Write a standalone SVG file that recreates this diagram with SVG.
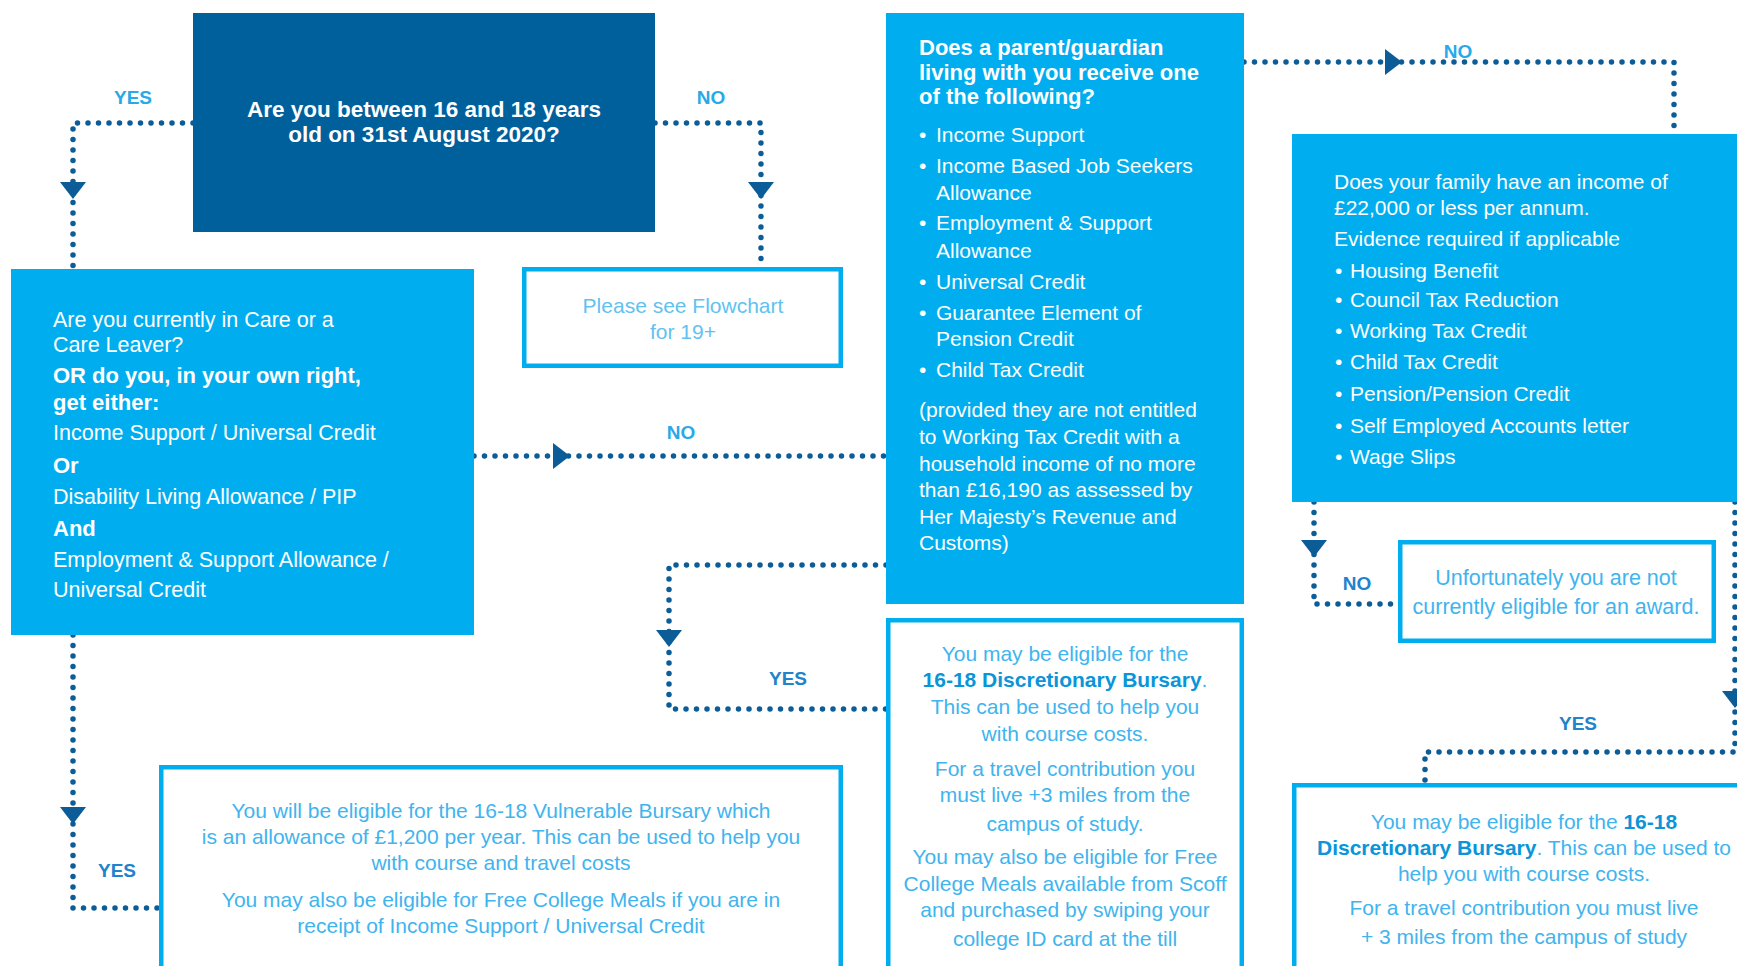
<svg xmlns="http://www.w3.org/2000/svg" xmlns:xlink="http://www.w3.org/1999/xlink" width="1737" height="966" viewBox="0 0 1737 966">
<defs>
<style>
.cyan{fill:#00aeef}
.dark{fill:#00609c}
.out{fill:#ffffff;stroke:#00aeef;stroke-width:4.5}
.conn{fill:none;stroke:#0b5c97;stroke-width:5.5;stroke-dasharray:0 10.5;stroke-linecap:round;stroke-linejoin:round}
.arrow{fill:#0b5c97}
text{font-family:"Liberation Sans",Arial,sans-serif;font-size:21px}
.w{fill:#ffffff}
.lb{fill:#40b4ee}
.pl{fill:#62c2ef}
.b{font-weight:bold}
.hl{fill:#0a95d9;font-weight:bold}
.lab{font-size:19px;font-weight:bold;text-anchor:middle}
.l1{fill:#28a9e8}
.l2{fill:#2083cc}
.c{text-anchor:middle}
</style>
<path id="ahd" d="M-13,-8 L13,-8 L0,9 Z"/>
</defs>
<rect width="1737" height="966" fill="#ffffff"/>

<g id="connectors">
<path class="conn" d="M193,123 H73 V269"/>
<path class="conn" d="M655,123 H761 V267"/>
<path class="conn" d="M474,456 H886"/>
<path class="conn" d="M886,565 H669 V709 H886"/>
<path class="conn" d="M73,635 V908 H160"/>
<path class="conn" d="M1244,62 H1674 V134"/>
<path class="conn" d="M1314,502 V604 H1398"/>
<path class="conn" d="M1735,502 V752 H1425 V784"/>
<use xlink:href="#ahd" class="arrow" transform="translate(73,190)"/>
<use xlink:href="#ahd" class="arrow" transform="translate(761,190)"/>
<use xlink:href="#ahd" class="arrow" transform="translate(561,456) rotate(-90)"/>
<use xlink:href="#ahd" class="arrow" transform="translate(669,638)"/>
<use xlink:href="#ahd" class="arrow" transform="translate(73,815)"/>
<use xlink:href="#ahd" class="arrow" transform="translate(1393,62) rotate(-90)"/>
<use xlink:href="#ahd" class="arrow" transform="translate(1314,548)"/>
<use xlink:href="#ahd" class="arrow" transform="translate(1735,699)"/>
<text class="lab l1" x="133" y="104">YES</text>
<text class="lab l1" x="711" y="104">NO</text>
<text class="lab l1" x="681" y="439">NO</text>
<text class="lab l1" x="1458" y="58">NO</text>
<text class="lab l2" x="788" y="685">YES</text>
<text class="lab l2" x="117" y="877">YES</text>
<text class="lab l2" x="1357" y="590">NO</text>
<text class="lab l2" x="1578" y="730">YES</text>
</g>

<g id="q-age">
<rect class="dark" x="193" y="13" width="462" height="219"/>
<text class="w b c" font-size="22.5" x="424" y="117" style="font-size:22.5px">Are you between 16 and 18 years</text>
<text class="w b c" x="424" y="142" style="font-size:22.5px">old on 31st August 2020?</text>
</g>

<g id="q-care">
<rect class="cyan" x="11" y="269" width="463" height="366"/>
<text class="w" x="53" y="327" style="font-size:21.5px">Are you currently in Care or a</text>
<text class="w" x="53" y="352" style="font-size:21.5px">Care Leaver?</text>
<text class="w b" x="53" y="383" style="font-size:22px">OR do you, in your own right,</text>
<text class="w b" x="53" y="410" style="font-size:22px">get either:</text>
<text class="w" x="53" y="440" style="font-size:21.5px">Income Support / Universal Credit</text>
<text class="w b" x="53" y="473" style="font-size:22px">Or</text>
<text class="w" x="53" y="504" style="font-size:21.5px">Disability Living Allowance / PIP</text>
<text class="w b" x="53" y="536" style="font-size:22px">And</text>
<text class="w" x="53" y="567" style="font-size:21.5px">Employment &amp; Support Allowance /</text>
<text class="w" x="53" y="597" style="font-size:21.5px">Universal Credit</text>
</g>

<g id="see-19">
<rect class="out" x="524.25" y="269.25" width="316.5" height="96.5"/>
<text class="pl c" x="683" y="313">Please see Flowchart</text>
<text class="pl c" x="683" y="339">for 19+</text>
</g>

<g id="q-parent">
<rect class="cyan" x="886" y="13" width="358" height="591"/>
<text class="w b" x="919" y="55" style="font-size:22px">Does a parent/guardian</text>
<text class="w b" x="919" y="80" style="font-size:22px">living with you receive one</text>
<text class="w b" x="919" y="104" style="font-size:22px">of the following?</text>
<text class="w" x="919" y="142">•</text><text class="w" x="936" y="142">Income Support</text>
<text class="w" x="919" y="173">•</text><text class="w" x="936" y="173">Income Based Job Seekers</text>
<text class="w" x="936" y="200">Allowance</text>
<text class="w" x="919" y="230">•</text><text class="w" x="936" y="230">Employment &amp; Support</text>
<text class="w" x="936" y="258">Allowance</text>
<text class="w" x="919" y="289">•</text><text class="w" x="936" y="289">Universal Credit</text>
<text class="w" x="919" y="320">•</text><text class="w" x="936" y="320">Guarantee Element of</text>
<text class="w" x="936" y="346">Pension Credit</text>
<text class="w" x="919" y="377">•</text><text class="w" x="936" y="377">Child Tax Credit</text>
<text class="w" x="919" y="417">(provided they are not entitled</text>
<text class="w" x="919" y="444">to Working Tax Credit with a</text>
<text class="w" x="919" y="471">household income of no more</text>
<text class="w" x="919" y="497">than £16,190 as assessed by</text>
<text class="w" x="919" y="524">Her Majesty’s Revenue and</text>
<text class="w" x="919" y="550">Customs)</text>
</g>

<g id="q-income">
<rect class="cyan" x="1292" y="134" width="450" height="368"/>
<text class="w" x="1334" y="189">Does your family have an income of</text>
<text class="w" x="1334" y="215">£22,000 or less per annum.</text>
<text class="w" x="1334" y="246">Evidence required if applicable</text>
<text class="w" x="1335" y="278">•</text><text class="w" x="1350" y="278">Housing Benefit</text>
<text class="w" x="1335" y="307">•</text><text class="w" x="1350" y="307">Council Tax Reduction</text>
<text class="w" x="1335" y="338">•</text><text class="w" x="1350" y="338">Working Tax Credit</text>
<text class="w" x="1335" y="369">•</text><text class="w" x="1350" y="369">Child Tax Credit</text>
<text class="w" x="1335" y="401">•</text><text class="w" x="1350" y="401">Pension/Pension Credit</text>
<text class="w" x="1335" y="433">•</text><text class="w" x="1350" y="433">Self Employed Accounts letter</text>
<text class="w" x="1335" y="464">•</text><text class="w" x="1350" y="464">Wage Slips</text>
</g>

<g id="not-eligible">
<rect class="out" x="1400.25" y="542.25" width="313.5" height="98.5"/>
<text class="lb c" x="1556" y="585" style="font-size:21.5px">Unfortunately you are not</text>
<text class="lb c" x="1556" y="614" style="font-size:21.5px">currently eligible for an award.</text>
</g>

<g id="vulnerable-bursary">
<rect class="out" x="161.25" y="767.25" width="679.5" height="220"/>
<text class="lb c" x="501" y="818">You will be eligible for the 16-18 Vulnerable Bursary which</text>
<text class="lb c" x="501" y="844">is an allowance of £1,200 per year. This can be used to help you</text>
<text class="lb c" x="501" y="870">with course and travel costs</text>
<text class="lb c" x="501" y="907">You may also be eligible for Free College Meals if you are in</text>
<text class="lb c" x="501" y="933">receipt of Income Support / Universal Credit</text>
</g>

<g id="discretionary-mid">
<rect class="out" x="888.25" y="620.25" width="353.5" height="400"/>
<text class="lb c" x="1065" y="661">You may be eligible for the</text>
<text class="lb c" x="1065" y="687"><tspan class="hl">16-18 Discretionary Bursary</tspan>.</text>
<text class="lb c" x="1065" y="714">This can be used to help you</text>
<text class="lb c" x="1065" y="741">with course costs.</text>
<text class="lb c" x="1065" y="776">For a travel contribution you</text>
<text class="lb c" x="1065" y="802">must live +3 miles from the</text>
<text class="lb c" x="1065" y="831">campus of study.</text>
<text class="lb c" x="1065" y="864">You may also be eligible for Free</text>
<text class="lb c" x="1065" y="891">College Meals available from Scoff</text>
<text class="lb c" x="1065" y="917">and purchased by swiping your</text>
<text class="lb c" x="1065" y="946">college ID card at the till</text>
</g>

<g id="discretionary-right">
<rect class="out" x="1294.25" y="785.25" width="500" height="300"/>
<text class="lb c" x="1524" y="829">You may be eligible for the <tspan class="hl">16-18</tspan></text>
<text class="lb c" x="1524" y="855"><tspan class="hl">Discretionary Bursary</tspan>. This can be used to</text>
<text class="lb c" x="1524" y="881">help you with course costs.</text>
<text class="lb c" x="1524" y="915">For a travel contribution you must live</text>
<text class="lb c" x="1524" y="944">+ 3 miles from the campus of study</text>
</g>
</svg>
